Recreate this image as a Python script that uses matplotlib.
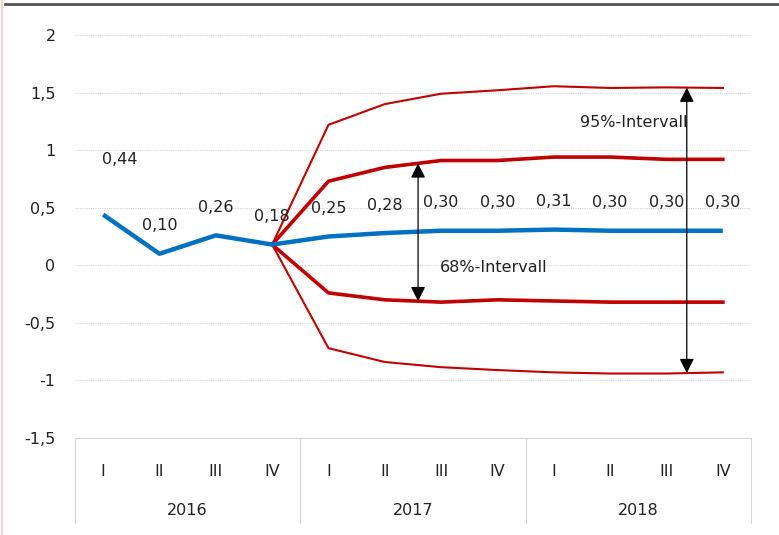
import numpy as np
import matplotlib.pyplot as plt
from matplotlib.lines import Line2D

plt.rcParams['font.family'] = ['DejaVu Sans']

quarters = ["I", "II", "III", "IV"] * 3
years = ["2016", "2017", "2018"]

forecast = [0.44, 0.10, 0.26, 0.18, 0.25, 0.28, 0.30, 0.30, 0.31, 0.30, 0.30, 0.30]
labels = ["0,44", "0,10", "0,26", "0,18", "0,25", "0,28", "0,30", "0,30", "0,31", "0,30", "0,30", "0,30"]

# bands start at IV 2016
band_x = [3, 4, 5, 6, 7, 8, 9, 10, 11]
upper95 = [0.18, 1.22, 1.40, 1.49, 1.52, 1.555, 1.54, 1.545, 1.54]
upper68 = [0.18, 0.73, 0.85, 0.91, 0.91, 0.94, 0.94, 0.92, 0.92]
lower68 = [0.18, -0.24, -0.30, -0.32, -0.30, -0.31, -0.32, -0.32, -0.32]
lower95 = [0.18, -0.72, -0.84, -0.885, -0.91, -0.93, -0.94, -0.94, -0.93]

blue = "#0070C0"
red = "#C00000"
txt = '#222222'

fig = plt.figure(figsize=(7.79, 5.35), dpi=100)
ax = fig.add_axes([75 / 779, 1 - 438 / 535, 676 / 779, 403 / 535])

x = np.arange(len(forecast))
ax.plot(band_x, upper95, color=red, lw=1.5, zorder=3)
ax.plot(band_x, lower95, color=red, lw=1.5, zorder=3)
ax.plot(band_x, upper68, color=red, lw=2.6, zorder=3)
ax.plot(band_x, lower68, color=red, lw=2.6, zorder=3)
ax.plot(x, forecast, color=blue, lw=3.2, zorder=4, solid_capstyle='butt')

for i, (v, t) in enumerate(zip(forecast, labels)):
    if i == 0:
        off = (12, 40)
    else:
        off = (0, 20)
    ax.annotate(t, (i, v), xytext=off, textcoords='offset points',
                ha='center', va='center', fontsize=11.5, color=txt)

# interval arrows
a68 = 5.59
a95 = 10.36
arrow = dict(arrowstyle='<|-|>', color='black', lw=0.9,
             mutation_scale=22, shrinkA=0, shrinkB=0)
ax.annotate('', xy=(a68, np.interp(a68, band_x, upper68)),
            xytext=(a68, np.interp(a68, band_x, lower68)),
            arrowprops=arrow, zorder=5)
ax.annotate('', xy=(a95, np.interp(a95, band_x, upper95)),
            xytext=(a95, np.interp(a95, band_x, lower95)),
            arrowprops=arrow, zorder=5)
ax.text(a95 + 0.02, 1.24, "95%-Intervall", ha='right', va='center', fontsize=11.5, color=txt)
ax.text(5.98, -0.02, "68%-Intervall", ha='left', va='center', fontsize=11.5, color=txt)

ax.set_xlim(-0.5, 11.5)
ax.set_ylim(-1.5, 2)
yt = np.arange(-1.5, 2.01, 0.5)
ax.set_yticks(yt)
ax.set_yticklabels([("%g" % v).replace(".", ",") for v in yt])
ax.tick_params(axis='y', length=0, pad=14, labelsize=11.5, labelcolor=txt)
for v in yt[1:]:
    ax.axhline(v, color='#d4d4d4', lw=0.8, ls=(0, (1, 1)), zorder=1)

ax.set_xticks(x)
ax.set_xticklabels(quarters)
ax.tick_params(axis='x', length=0, pad=19, labelsize=11.5, labelcolor=txt)
for s in ['top', 'right', 'left']:
    ax.spines[s].set_visible(False)
ax.spines['bottom'].set_color('#d4d4d4')
ax.spines['bottom'].set_linewidth(0.8)

tr = ax.get_xaxis_transform()
for j, yr in enumerate(years):
    ax.text(4 * j + 1.5, -0.18, yr, transform=tr, ha='center', va='center',
            fontsize=11.5, color=txt)
for b in [-0.5, 3.5, 7.5, 11.5]:
    ax.add_line(Line2D([b, b], [0, -0.212], transform=tr, color='#d4d4d4',
                       lw=0.8, clip_on=False))

# frame bits of the original picture
fig.add_artist(Line2D([5 / 779, 1], [1 - 4 / 535, 1 - 4 / 535], color='#555555', lw=2))
fig.add_artist(Line2D([1.5 / 779, 1.5 / 779], [0, 1], color='#f4c8c8', lw=1.2))

fig.savefig("out.png", dpi=100)
